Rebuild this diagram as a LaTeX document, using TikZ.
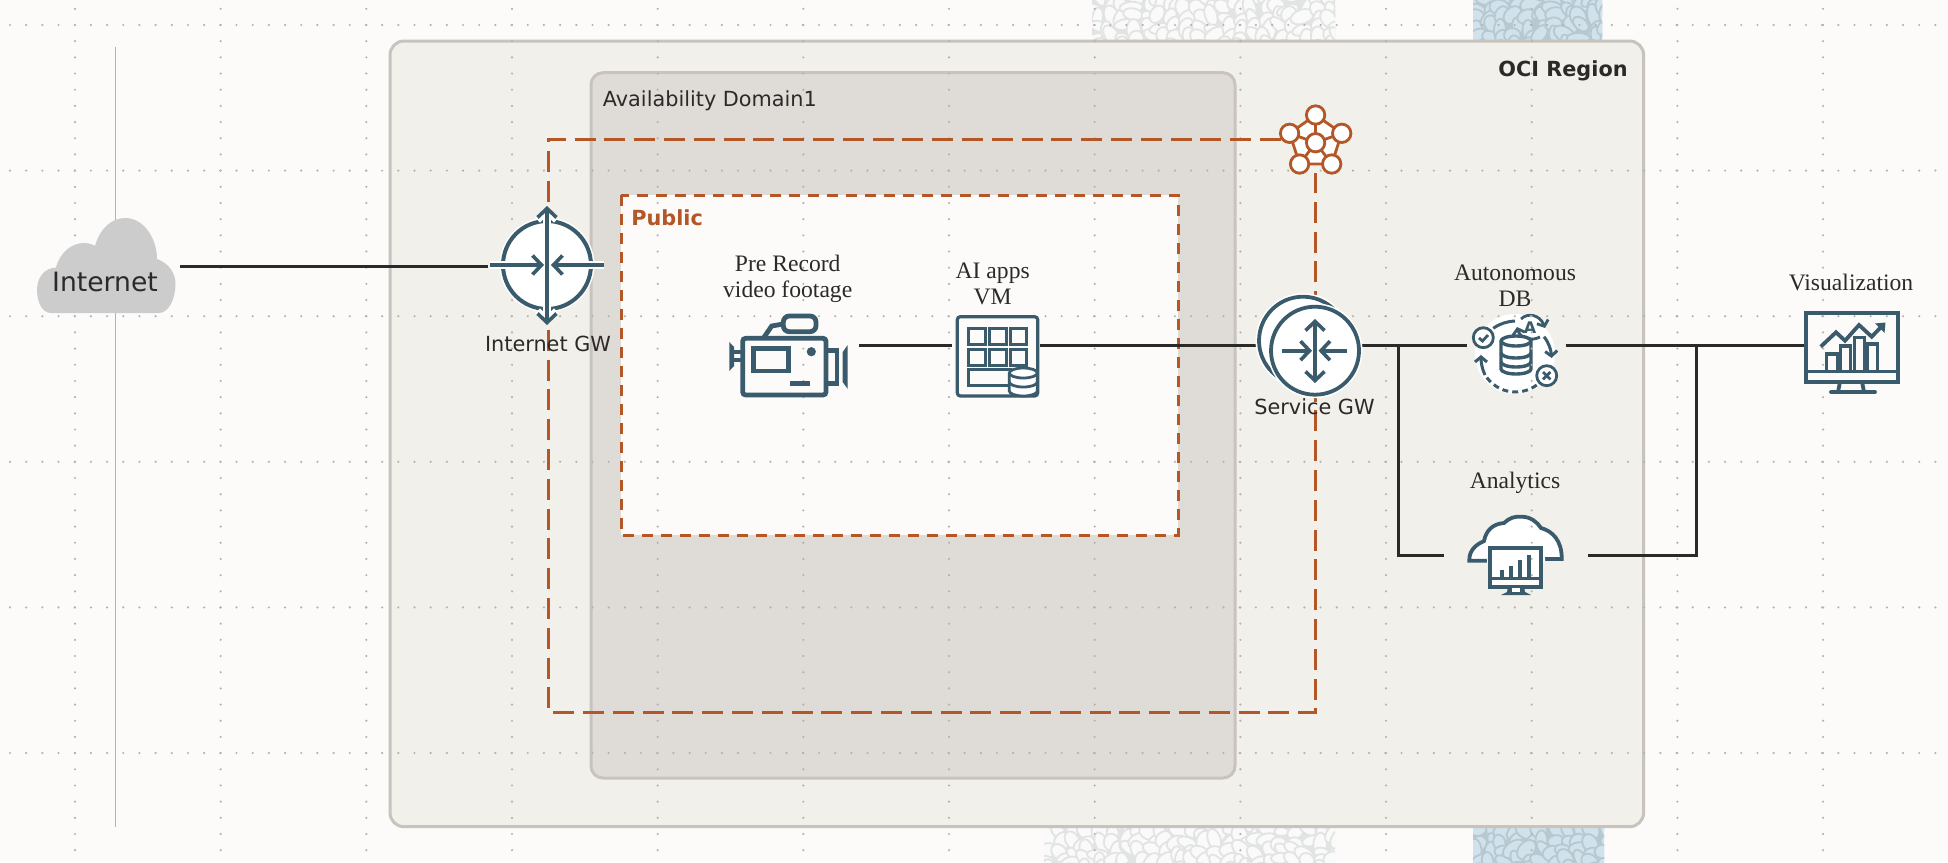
\documentclass[tikz,border=0pt]{standalone}
\usepackage{fontspec}
\setmainfont{Liberation Serif}
\newfontfamily\labelsans{DejaVu Sans}
\usetikzlibrary{positioning, arrows.meta, calc}
\definecolor{pagebg}{HTML}{FCFBF9}
\definecolor{regionfill}{HTML}{F1F0EB}
\definecolor{regionedge}{HTML}{C9C3BD}
\definecolor{domainfill}{HTML}{DFDCD8}
\definecolor{ocirust}{HTML}{B35727}
\definecolor{iconteal}{HTML}{3A5B6B}
\definecolor{wireink}{HTML}{2B2A28}
\definecolor{griddot}{HTML}{B4B3B0}
\definecolor{cloudgrey}{HTML}{CCCCCC}
\definecolor{axisblue}{HTML}{A9B8C0}
\definecolor{stonegrey}{HTML}{E2E3E3}
\definecolor{stonelight}{HTML}{FAFAFA}
\definecolor{stoneblue}{HTML}{B8C8D1}
\definecolor{stonepale}{HTML}{D0E2EB}
\tikzset{
  barbtip/.tip={Straight Barb[length=4.5pt, width=9.5pt]},
  smalltip/.tip={Straight Barb[length=2.5pt, width=6pt]},
}

% pebble strip behind the region
\newcommand{\stonepatch}[6]{%
  \begin{scope}
    \clip (#1,#2) rectangle (#3,#4);
    \fill[#5] (#1,#2) rectangle (#3,#4);
    \foreach \cx in {0,13,...,312}{
      \foreach \cy in {-6,4,...,44}{
        \pgfmathsetmacro\px{#1+\cx+8*rnd}
        \pgfmathsetmacro\py{#2+\cy+7*rnd}
        \pgfmathsetmacro\ra{4+2.2*rnd}
        \pgfmathsetmacro\rb{2.6+1.4*rnd}
        \pgfmathsetmacro\rota{180*rnd}
        \filldraw[fill=#6, draw=#5, line width=0.9pt] (\px,\py) ellipse [x radius=\ra pt, y radius=\rb pt, rotate=\rota];
      }
    }
  \end{scope}}

\begin{document}
\begin{tikzpicture}[
    x=0.5pt, y=-0.5pt,
    sized/.style 2 args={inner sep=0pt, outer sep=0pt, minimum width=#1*0.5pt, minimum height=#2*0.5pt},
    regionbox/.style={draw=regionedge, line width=1.5pt, rounded corners=7pt},
    sanslabel/.style={font=\labelsans\fontsize{10.4}{12}\selectfont, text=wireink, inner sep=0pt},
    seriflabel/.style={font=\fontsize{11.8}{13}\selectfont, text=wireink, align=center, inner sep=0pt},
    wire/.style={draw=wireink, line width=1.5pt},
    rustdash/.style={draw=ocirust, line width=1.5pt, dash pattern=on 10.5pt off 4.4pt},
    iconline/.style={draw=iconteal, line width=2.1pt},
    thinicon/.style={draw=iconteal, line width=1.4pt},
    gwarrow/.style={draw=iconteal, line width=1.8pt, preaction={draw=white, line width=3.6pt}},
    >=Stealth,
  ]
  \useasboundingbox (0,0) rectangle (1948,862);
  \fill[pagebg] (0,0) rectangle (1948,862);

  % Pebble strips
  \pgfmathsetseed{4711}
  \stonepatch{1092}{0}{1335}{44}{stonegrey}{stonelight}
  \stonepatch{1044}{824}{1335}{862}{stonegrey}{stonelight}
  \stonepatch{1473}{0}{1602}{44}{stoneblue}{stonepale}
  \stonepatch{1473}{824}{1604}{862}{stoneblue}{stonepale}

  % Regions
  \node[regionbox, sized={1253.6}{785.7}, fill=regionfill] (ociregion) at (1016.8,433.85) {};
  \node[regionbox, sized={644}{705.3}, fill=domainfill, rounded corners=6pt] (domain) at (913,425.35) {};
  \node[sized={557}{340}, fill=pagebg] (publicnet) at (899.5,365) {};
  \draw[draw=ocirust, line width=1.5pt, dash pattern=on 5.5pt off 4pt] (publicnet.north west) rectangle (publicnet.south east);

  % Internet axis
  \coordinate (axistop) at (115.5,47);
  \coordinate (axisbot) at (115.5,827);
  \draw[axisblue, line width=0.6pt] (axistop) -- (axisbot);

  % Analytics icon
  \node[sized={143.7}{60}] (analytics) at (1515.85,555.7) {};
  \draw[iconline, fill=white, line width=1.9pt] (1469.3,560.7) .. controls (1469,551) and (1475,545) .. (1484,541)
    .. controls (1486,531) and (1492,524) .. (1504,523)
    .. controls (1509,518) and (1515,516) .. (1522,516.7)
    .. controls (1531,517) and (1537,522) .. (1541,528)
    .. controls (1552,531) and (1562,540) .. (1561.7,559)
    -- (1545,559) -- (1485,560.7) -- cycle;
  \draw[white, line width=2.2pt] (1487,560.7) -- (1545,559);
  \draw[iconline, fill=white, line width=2.1pt] (1490,548.3) rectangle (1541,586.7);
  \draw[thinicon] (1490,578.3) -- (1541,578.3);
  \foreach \barx/\bartop in {1501.7/570, 1510.7/565.7, 1520/560, 1529/555}{
    \fill[iconteal] (\barx-2,\bartop) rectangle (\barx+2,578);
  }
  \fill[iconteal] (1508,586.7) -- (1524,586.7) -- (1525,592) -- (1531,595) -- (1501,595) -- (1507,592) -- cycle;
  \fill[white] (1512,588) rectangle (1520,591.5);

  % Autonomous DB icon
  \node[sized={99}{80}] (db) at (1516.2,345.3) {};
  \fill[white] (1515,354) circle (20pt);
  \draw[iconline, line width=1.5pt] (1493.3,328.3) .. controls (1500,323.5) and (1507,321.5) .. (1515,321);
  \draw[iconline, line width=1.5pt, -{smalltip}] (1544,336.7) .. controls (1549,343) and (1551,350) .. (1551.7,358);
  \draw[iconline, line width=1.5pt, dash pattern=on 3pt off 2pt] (1536.7,385) .. controls (1522,396) and (1498,395) .. (1485,375);
  \draw[iconline, line width=1.5pt, -{smalltip}] (1485,375) .. controls (1482,369) and (1481,362) .. (1481,355);
  \draw[thinicon, fill=white] (1483.3,337.7) circle (5pt);
  \draw[thinicon] (1479,338) -- (1482.5,341) -- (1488,335);
  \draw[thinicon, fill=white] (1546.7,375.7) circle (5pt);
  \draw[thinicon] (1543,372) -- (1550.4,379.4) (1550.4,372) -- (1543,379.4);
  \fill[white] (1530,327.3) circle (7pt);
  \node[font=\labelsans\bfseries\fontsize{8}{9}\selectfont, text=iconteal, inner sep=0pt] (dbletter) at (1530,327.5) {A};
  \draw[iconline, line width=1.4pt, -{smalltip}] (1521,319) .. controls (1528,312) and (1540,315) .. (1545,328);
  \draw[iconline, line width=1.4pt, -{smalltip}] (1540,337) .. controls (1530,342) and (1520,338) .. (1517,327);
  \begin{scope}[shift={(1516,355)}]
    \draw[iconline, line width=1.7pt, fill=white] (-15,-14) -- (-15,14) arc[start angle=180, end angle=360, x radius=7.5pt, y radius=2.5pt]
      -- (15,-14) arc[start angle=0, end angle=180, x radius=7.5pt, y radius=2.5pt] -- cycle;
    \draw[iconline, line width=1.7pt] (-15,-14) arc[start angle=180, end angle=360, x radius=7.5pt, y radius=2.5pt];
    \draw[iconline, line width=1.7pt] (-15,-2) arc[start angle=180, end angle=360, x radius=7.5pt, y radius=2.5pt];
    \draw[iconline, line width=1.7pt] (-15,7) arc[start angle=180, end angle=360, x radius=7.5pt, y radius=2.5pt];
  \end{scope}

  % Dotted grid
  \foreach \col in {0,...,12}{
    \foreach \row in {-1,...,51}{
      \fill[griddot] (75+145.67*\col,25+16.18*\row) circle (0.6pt);
    }
  }
  \foreach \line in {0,...,5}{
    \foreach \col in {0,...,119}{
      \fill[griddot] (10+16.18*\col,25+145.6*\line) circle (0.6pt);
    }
  }

  % Internet cloud
  \node[sized={144}{100}] (internet) at (108,266.7) {};
  \fill[cloudgrey] (51,313) .. controls (41,313) and (37,300) .. (37,290)
    .. controls (37,278) and (44,268) .. (56,267.5)
    .. controls (60,252) and (72,243) .. (84,243)
    .. controls (88,243) and (92,244) .. (95,246)
    .. controls (100,228) and (112,218) .. (125,218)
    .. controls (145,218) and (157,240) .. (157,259)
    .. controls (168,263) and (175.5,272) .. (175.5,284)
    .. controls (175.5,300) and (168,313) .. (159,313) -- cycle;
  \node[sanslabel, font=\labelsans\fontsize{13.3}{15}\selectfont] (internetlabel) at (105,282) {Internet};

  % Dashed loop
  \node[sized={69.2}{68.6}] (hub) at (1315.6,139) {};
  \coordinate (loopcorner) at (548,712);
  \draw[rustdash] (hub.west) -| (loopcorner) -| (hub.south);

  % Hub icon
  \begin{scope}[ocirust, line width=1.4pt]
    \draw[fill=white] (1315.6,115) -- (1289.6,133.3) -- (1299.6,164) -- (1331.7,164) -- (1341.7,133.3) -- cycle;
    \foreach \spokex/\spokey in {1315.6/115, 1289.6/133.3, 1299.6/164, 1331.7/164, 1341.7/133.3}{
      \draw (1315.6,142.7) -- (\spokex,\spokey);
    }
    \foreach \spokex/\spokey in {1315.6/115, 1289.6/133.3, 1299.6/164, 1331.7/164, 1341.7/133.3, 1315.6/142.7}{
      \draw[fill=white] (\spokex,\spokey) circle (4.6pt);
    }
  \end{scope}

  % Wires
  \node[sized={118}{118}] (igw) at (547,266.7) {};
  \node[sized={104.7}{100}] (sgw) at (1309.3,345.3) {};
  \node[sized={88.3}{80}] (vm) at (995.85,345.3) {};
  \node[sized={130}{80}] (camera) at (794,345.3) {};
  \node[sized={94}{80}] (viz) at (1851,345.3) {};
  \coordinate (busleft) at (1398,345.3);
  \coordinate (busright) at (1696,345.3);
  \draw[wire] (internet.east) -- (igw.west);
  \draw[wire] (camera.east) -- (vm.west);
  \draw[wire] (vm.east) -- (sgw.west);
  \draw[wire] (sgw.east) -- (db.west);
  \draw[wire] (db.east) -- (viz.west);
  \draw[wire] (busleft) |- (analytics.west);
  \draw[wire] (analytics.east) -| (busright);

  % Internet GW icon
  \draw[iconteal, line width=2pt, fill=white, preaction={draw=white, line width=3.5pt}] (547,265) circle (22pt);
  \draw[gwarrow, {barbtip}-{barbtip}] (547,206) -- (547,325);
  \draw[gwarrow, -{barbtip}] (490,265) -- (544,265);
  \draw[gwarrow, -{barbtip}] (604,265) -- (551,265);

  % Service GW icon
  \draw[iconteal, line width=1.9pt, fill=white, preaction={draw=white, line width=3.5pt}] (1303,340.7) circle (22pt);
  \draw[iconteal, line width=1.9pt, fill=white, preaction={draw=white, line width=3.5pt}] (1315,350.7) circle (22pt);
  \draw[gwarrow, {barbtip}-{barbtip}] (1315,319) -- (1315,383);
  \draw[gwarrow, -{barbtip}] (1281.7,350.7) -- (1312,350.7);
  \draw[gwarrow, -{barbtip}] (1347.3,350.7) -- (1318.5,350.7);

  % Camera icon
  \begin{scope}[iconline/.append style={line width=2.4pt}]
    \draw[iconline, rounded corners=1.5pt] (742.7,338.3) rectangle (826,395);
    \draw[iconline] (753.3,348.3) rectangle (788.3,371);
    \fill[iconteal] (811.3,351.7) circle (2.3pt);
    \fill[iconteal] (790,380.7) rectangle (810,385.7);
    \draw[iconline, rounded corners=3pt] (783.3,316) rectangle (816,331.7);
    \draw[iconline] (763.3,338.3) -- (771.7,326) -- (783.3,324);
    \draw[iconline] (742.7,352) -- (733.3,352) (742.7,360) -- (733.3,360);
    \fill[iconteal] (729.3,342) -- (734,347) -- (734,366) -- (729.3,371) -- cycle;
    \draw[iconline] (826,350.7) -- (837,350.7) -- (837,383.3) -- (826,383.3);
    \fill[iconteal] (847.7,345) -- (842.7,352) -- (842.7,382) -- (847.7,389) -- cycle;
  \end{scope}

  % VM icon
  \draw[thinicon, line width=1.6pt, rounded corners=1.5pt] (957.3,316.7) rectangle (1037.7,396);
  \foreach \cellx in {968.7, 989.3, 1010}{
    \foreach \celly in {328.3, 349}{
      \draw[thinicon, line width=1.5pt] (\cellx,\celly) rectangle ++(16.7,16.4);
    }
  }
  \draw[thinicon, line width=1.5pt] (968.7,369.3) rectangle (1010,385);
  \begin{scope}[shift={(1023.3,382)}]
    \draw[thinicon, fill=white] (-14,-9) -- (-14,9) arc[start angle=180, end angle=360, x radius=7pt, y radius=2.5pt]
      -- (14,-9) arc[start angle=0, end angle=180, x radius=7pt, y radius=2.5pt] -- cycle;
    \draw[thinicon] (-14,-9) arc[start angle=180, end angle=360, x radius=7pt, y radius=2.5pt];
    \draw[thinicon] (-14,0) arc[start angle=180, end angle=360, x radius=7pt, y radius=2.5pt];
  \end{scope}

  % Visualization icon
  \draw[iconline] (1806,312.7) rectangle (1898.3,381.7);
  \draw[iconline, line width=1.5pt] (1806,371.7) -- (1898.3,371.7);
  \draw[iconline, line width=1.9pt] (1840,381.7) -- (1838,392) (1862,381.7) -- (1864,392);
  \draw[iconline, line width=1.9pt, line cap=round] (1831,392) -- (1875,392);
  \draw[iconline, line width=1.9pt] (1820.7,346.7) -- (1836,332.3) -- (1845,340.7) -- (1859,325) -- (1871.7,336.7) -- (1882,326);
  \fill[iconteal] (1885.5,322.5) -- (1875,323.5) -- (1884.5,333) -- cycle;
  \foreach \barl/\barr/\bartop in {1826.7/1837.3/354, 1840.7/1850.7/346, 1854.3/1864.3/337.3, 1867.7/1877.7/344}{
    \draw[thinicon, line width=1.6pt] (\barl,371) -- (\barl,\bartop) -- (\barr,\bartop) -- (\barr,371);
  }

  % Labels
  \node[sanslabel, font=\labelsans\bfseries\fontsize{10.4}{12}\selectfont, anchor=east] (regionlabel) at (1628,70.5) {OCI Region};
  \node[sanslabel, anchor=west] (domainlabel) at (602.5,101) {Availability Domain1};
  \node[sanslabel, font=\labelsans\bfseries\fontsize{10.4}{12}\selectfont, text=ocirust, anchor=west] (publiclabel) at (631,217.5) {Public};
  \node[sanslabel] (igwlabel) at (548,344) {Internet GW};
  \node[sanslabel] (sgwlabel) at (1314.5,407) {Service GW};
  \node[seriflabel] (cameralabel) at (787.7,279) {Pre Record\\video footage};
  \node[seriflabel] (vmlabel) at (992.7,283.5) {AI apps\\VM};
  \node[seriflabel] (dblabel) at (1515,285.5) {Autonomous\\DB};
  \node[seriflabel] (analyticslabel) at (1515,483) {Analytics};
  \node[seriflabel] (vizlabel) at (1851,282) {Visualization};
\end{tikzpicture}
\end{document}
